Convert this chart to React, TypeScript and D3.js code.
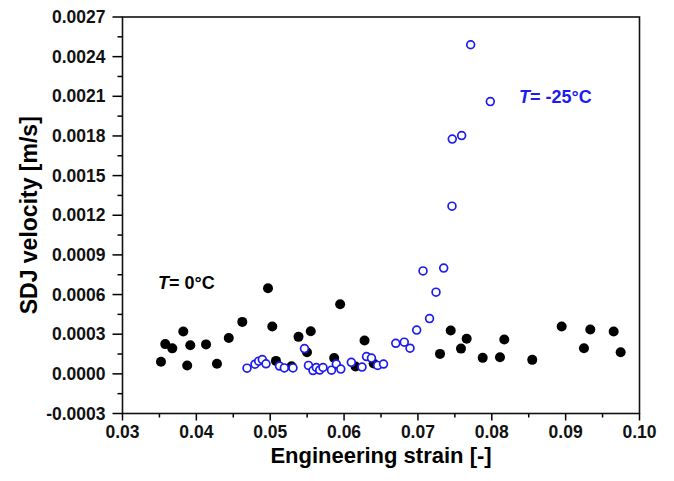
import React from "react";
import * as d3 from "d3";

// T = 0°C series (filled black)
const strain0C = [0.03521, 0.03579, 0.03674, 0.03823, 0.03876, 0.03918, 0.04131, 0.04279, 0.04439, 0.04622, 0.0497, 0.05028, 0.05078, 0.05288, 0.05383, 0.05498, 0.05549, 0.05866, 0.05947, 0.06155, 0.06277, 0.06401, 0.07299, 0.07444, 0.07583, 0.0766, 0.07877, 0.08111, 0.08169, 0.08548, 0.08946, 0.09248, 0.09334, 0.0965, 0.09745];
const velocity0C = [0.000091, 0.000225, 0.000193, 0.00032, 0.000063, 0.000216, 0.000223, 0.000076, 0.000271, 0.000393, 0.000648, 0.000358, 0.000098, 0.000058, 0.00028, 0.000163, 0.000322, 0.00012, 0.000526, 0.000055, 0.000252, 0.000078, 0.000151, 0.000328, 0.000191, 0.000265, 0.000121, 0.000126, 0.00026, 0.000106, 0.000358, 0.000194, 0.000335, 0.00032, 0.000164];

// T = -25°C series (open blue)
const strainM25C = [0.04686, 0.04794, 0.04844, 0.04893, 0.04943, 0.05126, 0.05191, 0.05308, 0.05464, 0.05518, 0.05579, 0.05624, 0.0567, 0.05715, 0.0583, 0.05895, 0.05956, 0.06098, 0.06243, 0.06304, 0.06371, 0.06455, 0.06534, 0.067, 0.06815, 0.06893, 0.06983, 0.07157, 0.07069, 0.07349, 0.07245, 0.07461, 0.07465, 0.07592, 0.0798, 0.07714];
const velocityM25C = [0.000043, 0.000073, 0.000096, 0.000108, 0.000076, 0.000059, 0.000045, 0.000045, 0.000191, 0.000064, 0.000025, 0.000048, 0.000029, 0.000048, 0.000028, 0.000074, 0.000036, 0.000087, 0.000051, 0.000131, 0.000119, 0.000064, 0.000074, 0.000231, 0.00024, 0.000194, 0.000331, 0.000418, 0.000779, 0.0008, 0.000618, 0.001269, 0.001776, 0.001803, 0.00206, 0.00249];

const xTicks = [0.03, 0.04, 0.05, 0.06, 0.07, 0.08, 0.09, 0.1];
const yTicks = [-0.0003, 0, 0.0003, 0.0006, 0.0009, 0.0012, 0.0015, 0.0018, 0.0021, 0.0024, 0.0027];
const xMinor = [0.035, 0.045, 0.055, 0.065, 0.075, 0.085, 0.095];
const yMinor = [-0.00015, 0.00015, 0.00045, 0.00075, 0.00105, 0.00135, 0.00165, 0.00195, 0.00225, 0.00255];

const W = 674, H = 481;
const L = 122.5, R = 639.5, T = 17, B = 413.5;
const FONT = "'Liberation Sans', Arial, sans-serif";
const BLUE = "#1c1cee";

export default function App() {
  const x = d3.scaleLinear().domain([0.03, 0.1]).range([L, R]);
  const y = d3.scaleLinear().domain([-0.0003, 0.0027]).range([B, T]);
  const fmtX = (v: number) => v.toFixed(2);
  const fmtY = (v: number) => v.toFixed(4);
  return (
    <svg width={W} height={H} style={{ position: "absolute", left: 0, top: 0, background: "#fff" }} fontFamily={FONT}>
      <rect x={0} y={0} width={W} height={H} fill="#fff" />
      {/* ticks */}
      {xTicks.map((t) => (
        <g key={"xt" + t}>
          <line x1={x(t)} x2={x(t)} y1={B} y2={B + 7} stroke="#000" strokeWidth={1.5} />
          <text x={x(t)} y={B + 24} textAnchor="middle" fontSize={17.5} fontWeight="bold" fill="#111">{fmtX(t)}</text>
        </g>
      ))}
      {xMinor.map((t) => (
        <line key={"xm" + t} x1={x(t)} x2={x(t)} y1={B} y2={B + 4} stroke="#000" strokeWidth={1.5} />
      ))}
      {yTicks.map((t) => (
        <g key={"yt" + t}>
          <line x1={L - 10} x2={L} y1={y(t)} y2={y(t)} stroke="#000" strokeWidth={1.5} />
          <text x={L - 17} y={y(t) + 6} textAnchor="end" fontSize={17.5} fontWeight="bold" fill="#111">{fmtY(t)}</text>
        </g>
      ))}
      {yMinor.map((t) => (
        <line key={"ym" + t} x1={L - 5} x2={L} y1={y(t)} y2={y(t)} stroke="#000" strokeWidth={1.5} />
      ))}
      {/* frame */}
      <rect x={L} y={T} width={R - L} height={B - T} fill="none" stroke="#111" strokeWidth={1.6} />
      {/* data */}
      {strain0C.map((s, i) => (
        <circle key={"b" + i} cx={x(s)} cy={y(velocity0C[i])} r={5} fill="#000" />
      ))}
      {strainM25C.map((s, i) => (
        <circle key={"o" + i} cx={x(s)} cy={y(velocityM25C[i])} r={3.9} fill="#fff" stroke={BLUE} strokeWidth={1.7} />
      ))}
      {/* annotations */}
      <text x={158} y={289} fontSize={18} fontWeight="bold" fill="#000">
        <tspan fontStyle="italic">T</tspan>= 0°C
      </text>
      <text x={519} y={103} fontSize={18} fontWeight="bold" fill={BLUE}>
        <tspan fontStyle="italic">T</tspan>= -25°C
      </text>
      {/* axis titles */}
      <text x={(L + R) / 2} y={463} textAnchor="middle" fontSize={22} fontWeight="bold" fill="#000">Engineering strain [-]</text>
      <text transform={`translate(37,${(T + B) / 2}) rotate(-90)`} textAnchor="middle" fontSize={23} fontWeight="bold" fill="#000">SDJ velocity [m/s]</text>
    </svg>
  );
}
